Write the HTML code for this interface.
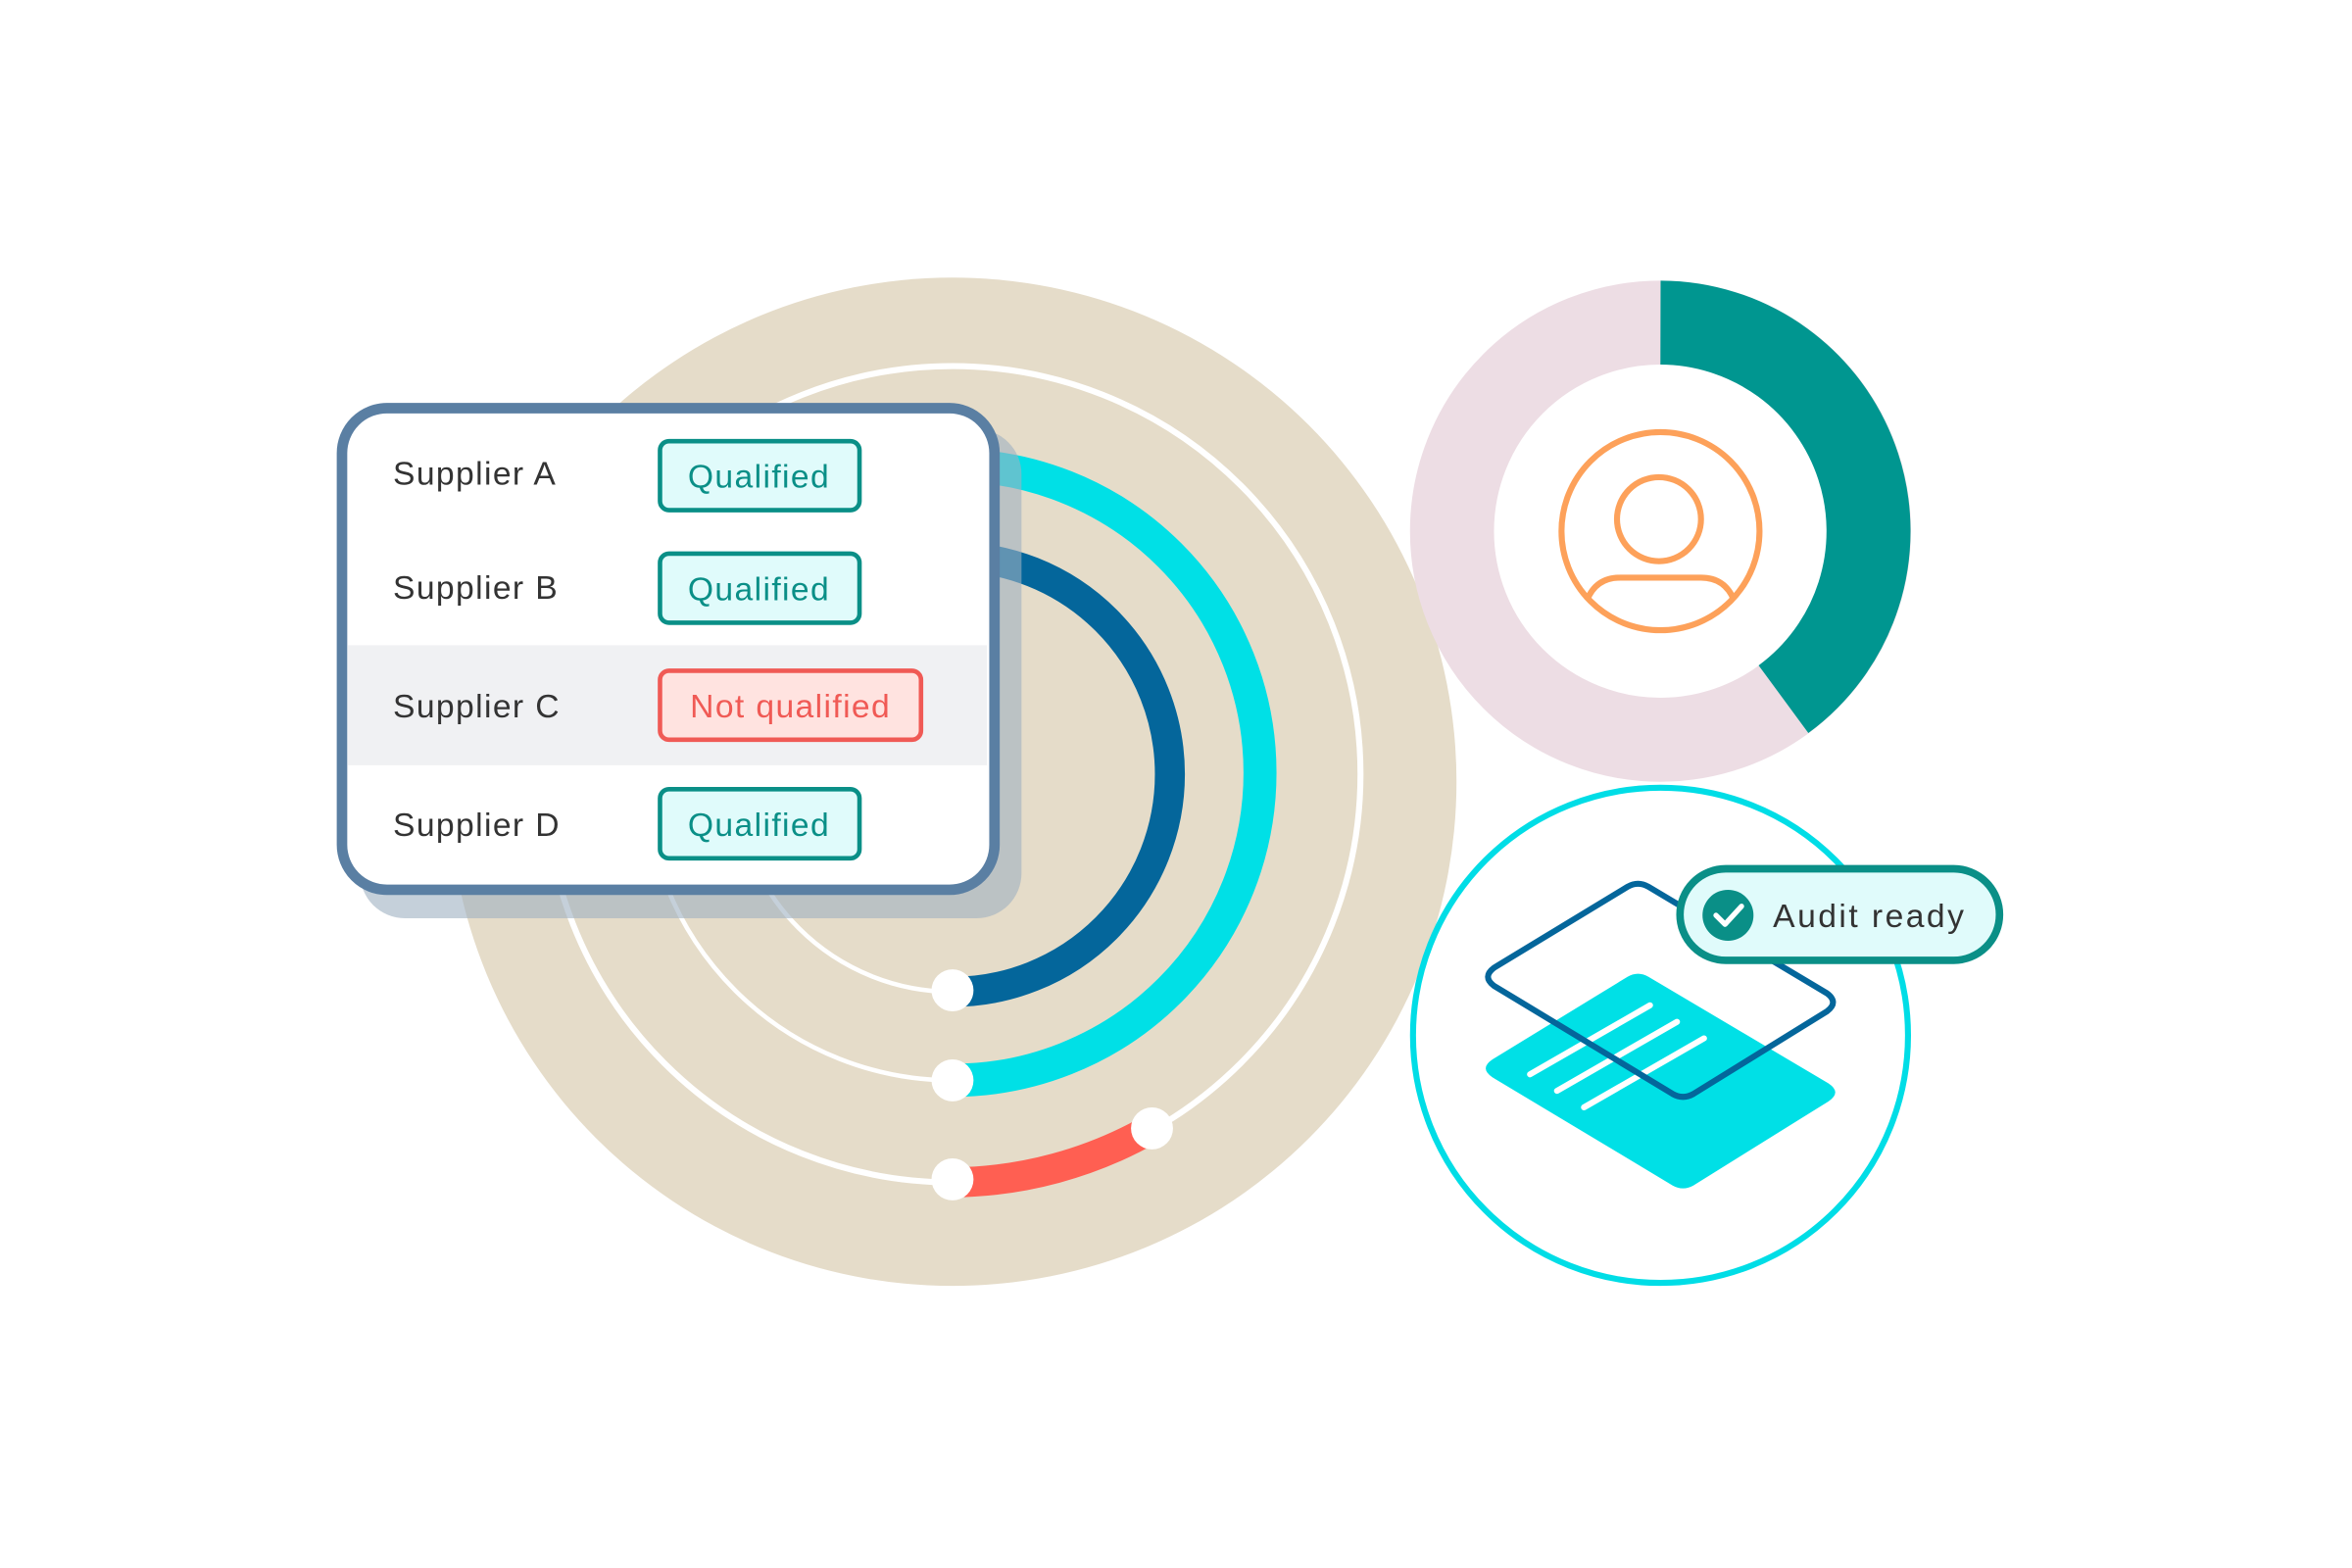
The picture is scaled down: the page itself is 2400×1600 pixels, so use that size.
<!DOCTYPE html>
<html><head><meta charset="utf-8"><style>
html,body{margin:0;padding:0;background:#fff;}
svg{display:block}
text{font-family:"Liberation Sans",sans-serif;}
</style></head><body>
<svg width="2400" height="1600" viewBox="0 0 1568 1045" preserveAspectRatio="none" xmlns="http://www.w3.org/2000/svg">
<rect width="1568" height="1045" fill="#fff"/>
<circle cx="635" cy="521" r="336" fill="#e5dcc9"/>
<circle cx="635" cy="516" r="272" fill="none" stroke="#fff" stroke-width="4"/>
<circle cx="635" cy="515" r="205" fill="none" stroke="#fff" stroke-width="3"/>
<circle cx="635" cy="516" r="145" fill="none" stroke="#fff" stroke-width="3"/>
<path d="M635 310 A205 205 0 0 1 635 720" fill="none" stroke="#00e0e6" stroke-width="22"/>
<path d="M635 371 A145 145 0 0 1 635 661" fill="none" stroke="#04669b" stroke-width="20"/>
<path d="M635 788 A272 272 0 0 0 768 752" fill="none" stroke="#ff5f52" stroke-width="20"/>
<circle cx="635" cy="660" r="14" fill="#fff"/>
<circle cx="635" cy="720" r="14" fill="#fff"/>
<circle cx="635" cy="786" r="14" fill="#fff"/>
<circle cx="768" cy="752" r="14" fill="#fff"/>
<rect x="240" y="286" width="441" height="326" rx="30" fill="#9fb0c2" opacity="0.6"/>
<rect x="228" y="272" width="435" height="321" rx="30" fill="#fff" stroke="#5a7fa3" stroke-width="7"/>
<rect x="232" y="430" width="426" height="80" fill="#f0f1f3"/>
<g font-size="22" fill="#333" letter-spacing="0.9">
<text x="262" y="323">Supplier A</text>
<text x="262" y="399">Supplier B</text>
<text x="262" y="478">Supplier C</text>
<text x="262" y="557">Supplier D</text>
</g>
<g stroke="#0a8f87" stroke-width="3" fill="#e0fbfb">
<rect x="440" y="294" width="133" height="46" rx="6"/>
<rect x="440" y="369" width="133" height="46" rx="6"/>
<rect x="440" y="526" width="133" height="46" rx="6"/>
</g>
<rect x="440" y="447" width="174" height="46" rx="6" fill="#ffe3e0" stroke="#f05a55" stroke-width="3"/>
<g font-size="22" fill="#0a8f87" text-anchor="middle" letter-spacing="0.9">
<text x="506" y="325">Qualified</text>
<text x="506" y="400">Qualified</text>
<text x="506" y="557">Qualified</text>
</g>
<text x="527" y="478" font-size="22" fill="#f05a55" text-anchor="middle" letter-spacing="0.9">Not qualified</text>
<circle cx="1107" cy="354" r="139" fill="none" stroke="#eddde4" stroke-width="56"/>
<path d="M1107 215 A139 139 0 0 1 1189 466" fill="none" stroke="#009690" stroke-width="56"/>
<circle cx="1107" cy="354" r="66" fill="none" stroke="#fda15a" stroke-width="4"/>
<circle cx="1106" cy="346" r="28" fill="none" stroke="#fda15a" stroke-width="4"/>
<path d="M1058 400 Q1064 385 1080 385 L1134 385 Q1150 385 1156 400" fill="none" stroke="#fda15a" stroke-width="4"/>
<circle cx="1107" cy="690" r="165" fill="#fff" stroke="#00dde6" stroke-width="4"/>
<path d="M995 706 L1085 651 Q1092 647 1099 651 L1219 722 Q1228 728 1219 734 L1129 790 Q1122 794 1115 790 L995 718 Q986 712 995 706 Z" fill="#00e0e6"/>
<g stroke="#fff" stroke-width="4" stroke-linecap="round">
<line x1="1020" y1="716" x2="1100" y2="670"/>
<line x1="1038" y1="727" x2="1118" y2="681"/>
<line x1="1056" y1="738" x2="1136" y2="692"/>
</g>
<path d="M996 645 L1085 591 Q1092 587 1099 591 L1218 662 Q1226 668 1218 674 L1129 729 Q1122 733 1115 729 L996 657 Q988 651 996 645 Z" fill="none" stroke="#04669b" stroke-width="4"/>
<rect x="1120" y="579" width="213" height="61" rx="30.5" fill="#e0fbfb" stroke="#0a8f87" stroke-width="5"/>
<circle cx="1152" cy="610" r="17" fill="#0a8f87"/>
<path d="M1144 610 L1150 616 L1161 604" fill="none" stroke="#fff" stroke-width="3.5" stroke-linecap="round" stroke-linejoin="round"/>
<text x="1182" y="618" font-size="22" fill="#333" letter-spacing="1.6">Audit ready</text>
</svg>
</body></html>
